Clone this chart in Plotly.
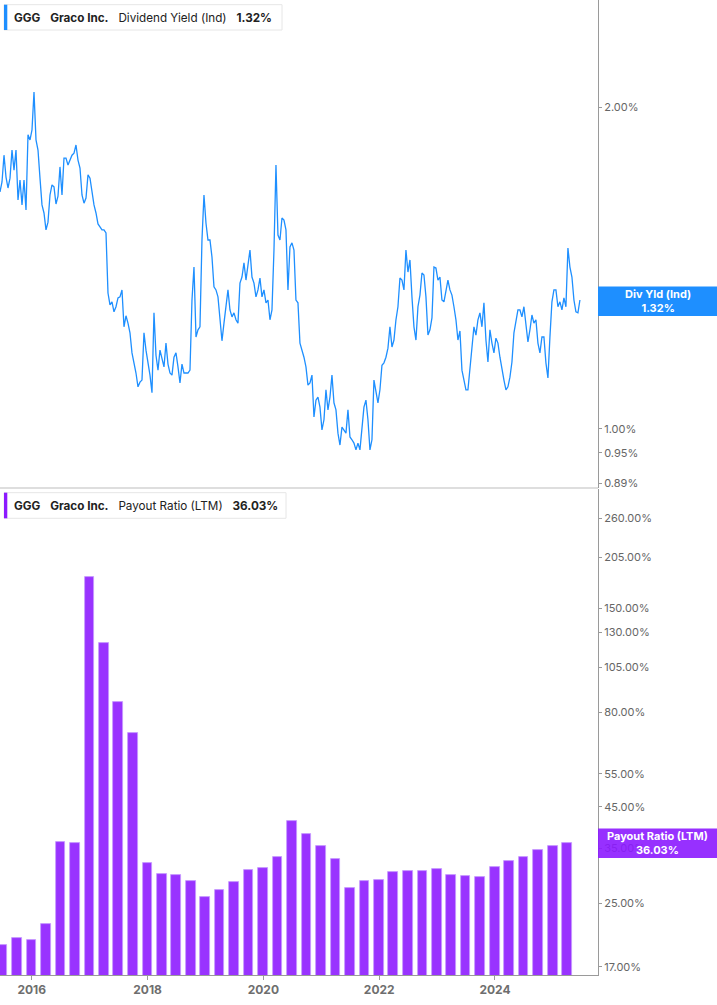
import pandas as pd
import plotly.graph_objects as go

# ---- data ------------------------------------------------------------------
# dividend yield (ind), %, evenly spaced from mid-Jun 2015 to mid-Jun 2025
yield_start, yield_end = "2015-06-15", "2025-06-20"
yield_pct = [
    1.666, 1.702, 1.803, 1.720, 1.680, 1.716, 1.823, 1.746, 1.823, 1.637,
    1.709, 1.620, 1.709, 1.602, 1.884, 1.863, 1.904, 2.066, 1.863, 1.823,
    1.716, 1.620, 1.592, 1.535, 1.561, 1.655, 1.691, 1.684, 1.623, 1.651,
    1.758, 1.655, 1.792, 1.792, 1.765, 1.784, 1.803, 1.811, 1.843, 1.784,
    1.754, 1.655, 1.626, 1.644, 1.728, 1.716, 1.662, 1.620, 1.592, 1.555,
    1.545, 1.535, 1.535, 1.525, 1.340, 1.306, 1.315, 1.287, 1.301, 1.326,
    1.329, 1.349, 1.246, 1.276, 1.256, 1.230, 1.178, 1.155, 1.128, 1.095,
    1.106, 1.111, 1.230, 1.185, 1.153, 1.123, 1.081, 1.284, 1.172, 1.135,
    1.185, 1.160, 1.143, 1.203, 1.150, 1.128, 1.123, 1.167, 1.178, 1.143,
    1.104, 1.150, 1.128, 1.128, 1.128, 1.135, 1.320, 1.417, 1.219, 1.238,
    1.246, 1.502, 1.655, 1.558, 1.502, 1.502, 1.448, 1.358, 1.349, 1.329,
    1.273, 1.209, 1.256, 1.301, 1.349, 1.292, 1.273, 1.284, 1.265, 1.256,
    1.369, 1.387, 1.430, 1.378, 1.430, 1.470, 1.387, 1.369, 1.329, 1.349,
    1.384, 1.329, 1.349, 1.312, 1.320, 1.265, 1.292, 1.470, 1.765, 1.518,
    1.502, 1.575, 1.568, 1.535, 1.349, 1.480, 1.493, 1.470, 1.320, 1.312,
    1.203, 1.185, 1.167, 1.143, 1.099, 1.104, 1.123, 1.026, 1.064, 1.071,
    1.048, 0.998, 1.020, 1.088, 1.042, 1.071, 1.123, 1.058, 1.042, 0.991,
    0.966, 1.004, 0.998, 0.991, 1.042, 0.983, 0.977, 0.970, 0.956, 0.970,
    0.956, 0.998, 1.048, 1.064, 1.020, 0.956, 0.977, 1.111, 1.081, 1.058,
    1.088, 1.147, 1.153, 1.167, 1.190, 1.246, 1.193, 1.211, 1.265, 1.301,
    1.384, 1.378, 1.349, 1.470, 1.402, 1.439, 1.329, 1.246, 1.211, 1.301,
    1.334, 1.399, 1.393, 1.329, 1.224, 1.238, 1.270, 1.417, 1.414, 1.378,
    1.387, 1.320, 1.315, 1.349, 1.378, 1.349, 1.334, 1.301, 1.265, 1.211,
    1.235, 1.135, 1.111, 1.088, 1.088, 1.135, 1.198, 1.246, 1.224, 1.265,
    1.284, 1.246, 1.312, 1.211, 1.155, 1.238, 1.203, 1.178, 1.216, 1.203,
    1.167, 1.135, 1.111, 1.088, 1.095, 1.118, 1.155, 1.230, 1.259, 1.292,
    1.292, 1.273, 1.301, 1.256, 1.206, 1.238, 1.278, 1.256, 1.265, 1.203,
    1.178, 1.219, 1.219, 1.153, 1.116, 1.219, 1.315, 1.349, 1.349, 1.301,
    1.315, 1.292, 1.326, 1.301, 1.476, 1.417, 1.387, 1.320, 1.287, 1.284,
    1.320,
]

# payout ratio (LTM), %, quarterly 2015Q2 .. 2025Q1
payout_first_q, payout_last_q = "2015Q2", "2025Q1"
payout_pct = [
    19.43, 20.24, 20.03, 22.07, 36.33, 36.17, 181.7, 121.8, 85.05, 70.4,
    31.9, 29.86, 29.7, 28.66, 26.0, 27.1, 28.5, 30.6, 30.97, 33.1,
    41.3, 38.1, 35.4, 32.8, 27.4, 28.66, 28.8, 30.2, 30.5, 30.45,
    30.8, 29.8, 29.5, 29.4, 31.2, 32.4, 33.2, 34.6, 35.4, 36.03,
]

yield_ticks = [0.89, 0.95, 1.00, 2.00]
payout_ticks = [17, 25, 35, 45, 55, 80, 105, 130, 150, 205, 260]
year_ticks = ["2016-01-01", "2018-01-01", "2020-01-01", "2022-01-01", "2024-01-01"]
year_labels = ["2016", "2018", "2020", "2022", "2024"]

# ---- style ------------------------------------------------------------------
BLUE = "#1e8fff"
PURPLE_BAR = "#9933ff"
PURPLE_TAG = "#8c1aff"
AXIS = "#9a9a9a"
TICKTXT = "#666666"
FONT = "Inter, 'Noto Sans', Arial, sans-serif"

W, H = 717, 1005
PLOT_W, PLOT_H = 598, 975   # plot area in px (right margin holds the axis)


def px_x(x):
    return x / PLOT_W


def px_y(y):
    return (PLOT_H - y) / PLOT_H


dates = pd.date_range(yield_start, yield_end, periods=len(yield_pct))
qdates = (pd.period_range(payout_first_q, payout_last_q, freq="Q")
          .to_timestamp(how="end").normalize())

fig = go.Figure()
fig.add_trace(go.Scatter(x=dates, y=yield_pct, mode="lines",
                         line=dict(color=BLUE, width=1.3),
                         xaxis="x", yaxis="y", hoverinfo="skip"))
fig.add_trace(go.Bar(x=qdates, y=payout_pct, width=61 * 86400000,
                     marker=dict(color=PURPLE_BAR,
                                 line=dict(color="#c59bff", width=0.8)),
                     xaxis="x2", yaxis="y2", hoverinfo="skip"))

xr = ["2015-06-15", "2025-10-12"]
fig.update_layout(
    width=W, height=H, showlegend=False,
    paper_bgcolor="white", plot_bgcolor="white",
    font=dict(family=FONT, color=TICKTXT, size=11),
    margin=dict(l=0, r=W - PLOT_W, t=0, b=H - PLOT_H),
    bargap=0,
    xaxis=dict(domain=[0, 1], range=xr, anchor="y", matches="x2",
               showticklabels=False, showgrid=False, zeroline=False,
               showline=False, ticks=""),
    xaxis2=dict(domain=[0, 1], range=xr, anchor="y2", showgrid=False,
                zeroline=False, showline=True, linecolor=AXIS, linewidth=1,
                ticks="outside", ticklen=4, tickcolor=AXIS,
                tickvals=year_ticks, ticktext=year_labels,
                tickfont=dict(size=12, color="#6e6e6e", weight="bold")),
    yaxis=dict(domain=[px_y(488), 1], type="log", side="right", anchor="x",
               range=[-0.0552, 0.4011], showgrid=False, zeroline=False,
               showline=True, linecolor=AXIS, linewidth=1,
               ticks="outside", ticklen=3, tickcolor=AXIS,
               tickvals=yield_ticks,
               ticktext=[f"{v:.2f}%" for v in yield_ticks]),
    yaxis2=dict(domain=[0, px_y(489)], type="log", side="right", anchor="x2",
                range=[1.2093, 2.4917], showgrid=False, zeroline=False,
                showline=True, linecolor=AXIS, linewidth=1,
                ticks="outside", ticklen=3, tickcolor=AXIS,
                tickvals=payout_ticks,
                ticktext=[f"{v:.2f}%" for v in payout_ticks]),
)

shapes = [
    # panel separator
    dict(type="line", xref="paper", yref="paper", x0=0, x1=1,
         y0=px_y(488), y1=px_y(488), line=dict(color="#dedede", width=2)),
    # header boxes
    dict(type="rect", xref="paper", yref="paper", layer="above",
         x0=px_x(4), x1=px_x(282), y0=px_y(30), y1=px_y(4.7),
         fillcolor="white", line=dict(color="#e6e6e6", width=1)),
    dict(type="rect", xref="paper", yref="paper", layer="above",
         x0=px_x(4), x1=px_x(7.3), y0=px_y(30), y1=px_y(4.7),
         fillcolor=BLUE, line=dict(width=0)),
    dict(type="rect", xref="paper", yref="paper", layer="above",
         x0=px_x(4), x1=px_x(286), y0=px_y(518.3), y1=px_y(492.7),
         fillcolor="white", line=dict(color="#e6e6e6", width=1)),
    dict(type="rect", xref="paper", yref="paper", layer="above",
         x0=px_x(4), x1=px_x(7.3), y0=px_y(518.3), y1=px_y(492.7),
         fillcolor=PURPLE_TAG, line=dict(width=0)),
    # last-value tags on the right axis
    dict(type="rect", xref="paper", yref="paper", layer="above",
         x0=1, x1=px_x(W), y0=px_y(316), y1=px_y(286.5),
         fillcolor=BLUE, line=dict(width=0)),
    dict(type="rect", xref="paper", yref="paper", layer="above",
         x0=1, x1=px_x(W), y0=px_y(858), y1=px_y(828.5), opacity=0.9,
         fillcolor=PURPLE_TAG, line=dict(width=0)),
]
fig.update_layout(shapes=shapes)

SP = "\u00a0\u00a0\u00a0"
hdr_font = dict(family=FONT, size=11.7, color="#222222")
fig.add_annotation(xref="paper", yref="paper", x=px_x(12), y=px_y(17.5),
                   xanchor="left", yanchor="middle", showarrow=False,
                   font=hdr_font,
                   text=f"<b>GGG</b>{SP}<b>Graco Inc.</b>{SP}"
                        f"Dividend Yield (Ind){SP}<b>{yield_pct[-1]:.2f}%</b>")
fig.add_annotation(xref="paper", yref="paper", x=px_x(12), y=px_y(505.5),
                   xanchor="left", yanchor="middle", showarrow=False,
                   font=hdr_font,
                   text=f"<b>GGG</b>{SP}<b>Graco Inc.</b>{SP}"
                        f"Payout Ratio (LTM){SP}<b>{payout_pct[-1]:.2f}%</b>")

tag_font = dict(family=FONT, size=11, color="white")
fig.add_annotation(xref="paper", yref="paper", x=px_x(657.5), y=px_y(301.3),
                   xanchor="center", yanchor="middle", showarrow=False,
                   font=tag_font, align="center",
                   text=f"<b>Div Yld (Ind)<br>{yield_pct[-1]:.2f}%</b>")
fig.add_annotation(xref="paper", yref="paper", x=px_x(657.5), y=px_y(843.3),
                   xanchor="center", yanchor="middle", showarrow=False,
                   font=tag_font, align="center",
                   text=f"<b>Payout Ratio (LTM)<br>{payout_pct[-1]:.2f}%</b>")

# the page body carries a default 8px margin; drop it so the chart sits flush
fig.write_html("out.html", config={"displayModeBar": False},
               post_script="document.body.style.margin='0';")
